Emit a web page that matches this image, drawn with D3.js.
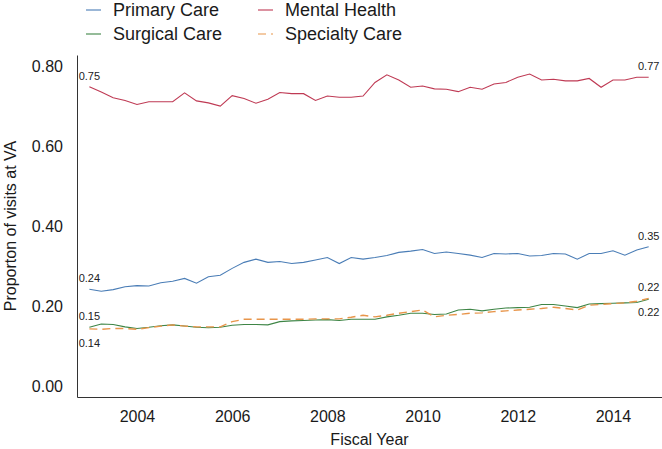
<!DOCTYPE html>
<html><head><meta charset="utf-8">
<script src="https://cdn.jsdelivr.net/npm/d3@7"></script>
<style>html,body{margin:0;padding:0;background:#fff;}svg{display:block;font-family:"Liberation Sans",Arial,sans-serif;}</style>
</head><body>
<svg id="c" width="662" height="449"></svg>
<script>
const years = d3.range(48).map(i => 2003 + i / 4);
const xTicks = [2004, 2006, 2008, 2010, 2012, 2014];
const yTicks = [0, 0.2, 0.4, 0.6, 0.8];
const seriesNames = ["Primary Care", "Mental Health", "Surgical Care", "Specialty Care"];
const primaryCare = [0.243,0.238,0.242,0.249,0.252,0.251,0.259,0.263,0.270,0.258,0.274,0.278,0.295,0.310,0.318,0.310,0.312,0.307,0.310,0.316,0.322,0.307,0.322,0.318,0.322,0.327,0.335,0.338,0.342,0.332,0.336,0.332,0.328,0.322,0.332,0.331,0.332,0.326,0.327,0.332,0.331,0.318,0.332,0.332,0.339,0.328,0.341,0.349];
const mentalHealth = [0.748,0.735,0.721,0.714,0.704,0.711,0.711,0.711,0.733,0.713,0.708,0.700,0.726,0.719,0.707,0.717,0.734,0.731,0.731,0.714,0.725,0.722,0.722,0.725,0.759,0.778,0.765,0.747,0.750,0.743,0.742,0.736,0.747,0.742,0.755,0.759,0.772,0.780,0.765,0.767,0.763,0.763,0.769,0.747,0.765,0.765,0.772,0.772];
const surgicalCare = [0.148,0.156,0.155,0.149,0.145,0.148,0.152,0.154,0.151,0.148,0.147,0.148,0.153,0.155,0.155,0.154,0.162,0.164,0.165,0.166,0.167,0.165,0.168,0.168,0.168,0.174,0.178,0.183,0.183,0.180,0.181,0.191,0.193,0.189,0.193,0.196,0.197,0.198,0.205,0.205,0.201,0.197,0.206,0.207,0.208,0.209,0.210,0.218];
const specialtyCare = [0.144,0.143,0.145,0.145,0.143,0.147,0.151,0.154,0.151,0.149,0.149,0.149,0.162,0.168,0.168,0.168,0.168,0.168,0.168,0.169,0.169,0.169,0.173,0.178,0.174,0.178,0.183,0.187,0.191,0.174,0.178,0.180,0.183,0.184,0.187,0.189,0.191,0.193,0.195,0.198,0.195,0.191,0.203,0.205,0.207,0.209,0.213,0.220];

const colors = ["#4a7db6", "#bf3a54", "#3e8546", "#e8954a"];
const dashes = [null, null, null, "8,5"];
const allSeries = [primaryCare, mentalHealth, surgicalCare, specialtyCare];
// label offsets: [start dy, end dy]
const labelOff = [[-11, -11], [-11, -11], [-11, 13], [14, -11]];

const svg = d3.select("#c");
const x = d3.scaleLinear().domain([2002.74, 2015.03]).range([77, 662]);
const y = d3.scaleLinear().domain([-0.026, 0.8275]).range([397, 55]);

// axes
const xAxis = svg.append("g").attr("transform", "translate(0,397)")
  .call(d3.axisBottom(x).tickValues(xTicks).tickFormat(d3.format("d")).tickSize(0).tickPadding(14));
const yAxis = svg.append("g").attr("transform", "translate(77,0)")
  .call(d3.axisLeft(y).tickValues(yTicks).tickFormat(d3.format(".2f")).tickSize(0).tickPadding(14));
[xAxis, yAxis].forEach(g => {
  g.select(".domain").attr("stroke", "#333").attr("stroke-width", 1);
  g.selectAll("text").attr("font-size", 16).attr("fill", "#1a1a1a").attr("font-family", "Liberation Sans, Arial, sans-serif");
});

svg.append("text").attr("x", (77 + 662) / 2).attr("y", 445).attr("text-anchor", "middle")
  .attr("font-size", 16).attr("fill", "#1a1a1a").text("Fiscal Year");
svg.append("text").attr("transform", "translate(16,226) rotate(-90)").attr("text-anchor", "middle")
  .attr("font-size", 16).attr("fill", "#1a1a1a").text("Proporton of visits at VA");

const line = d3.line().x((d, i) => x(years[i])).y(d => y(d));
allSeries.forEach((s, k) => {
  svg.append("path").datum(s).attr("d", line).attr("fill", "none")
    .attr("stroke", colors[k]).attr("stroke-width", k === 3 ? 1.4 : 1.1)
    .attr("stroke-dasharray", dashes[k]);
  const first = s[0], last = s[s.length - 1];
  svg.append("text").attr("x", x(years[0])).attr("y", y(first) + labelOff[k][0]).attr("dy", "0.35em")
    .attr("text-anchor", "middle").attr("font-size", 11).attr("fill", "#222").text(d3.format(".2f")(first));
  svg.append("text").attr("x", x(years[years.length - 1])).attr("y", y(last) + labelOff[k][1]).attr("dy", "0.35em")
    .attr("text-anchor", "middle").attr("font-size", 11).attr("fill", "#222").text(d3.format(".2f")(last));
});

// legend
const legPos = [[86, 10], [258, 10], [86, 34], [258, 34]];
seriesNames.forEach((n, k) => {
  const g = svg.append("g").attr("transform", `translate(${legPos[k][0]},${legPos[k][1]})`);
  g.append("line").attr("x1", 0).attr("x2", 15).attr("y1", 0).attr("y2", 0)
    .attr("stroke", colors[k]).attr("stroke-width", 1.1).attr("stroke-dasharray", dashes[k]);
  g.append("text").attr("x", 27).attr("y", 0).attr("dy", "0.35em").attr("font-size", 18)
    .attr("fill", "#1a1a1a").text(n);
});
</script>
</body></html>
